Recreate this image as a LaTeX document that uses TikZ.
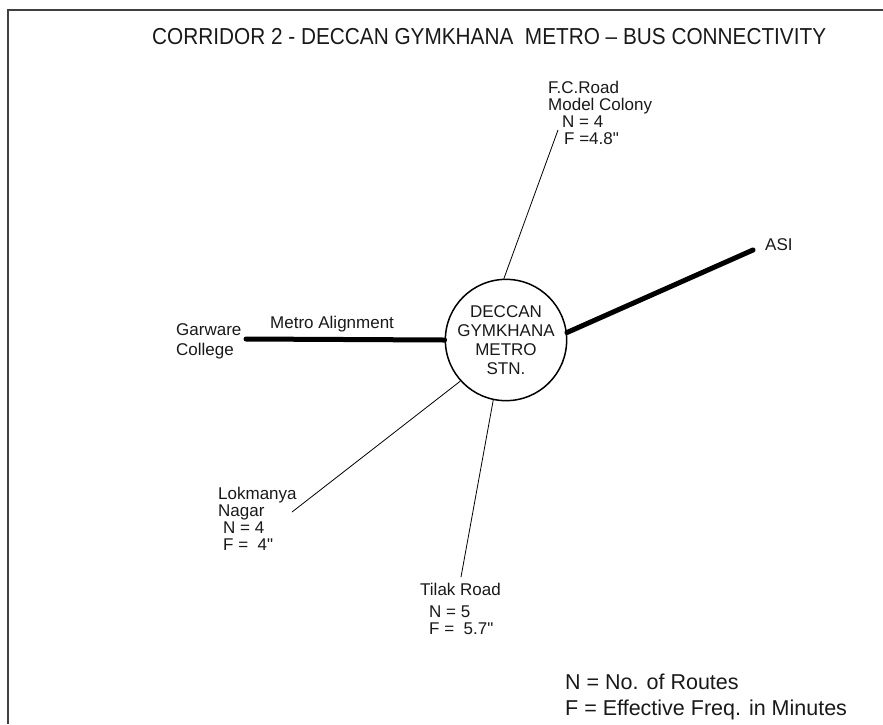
\documentclass[tikz,border=0pt]{standalone}
\usepackage{fontspec}
\setmainfont{Liberation Sans}
\newfontfamily\lblfont{Liberation Sans}
\newfontfamily\narrowfont[FakeStretch=0.9]{Liberation Sans}
\begin{document}
\begin{tikzpicture}[x=1pt,y=-1pt,
  lbl/.style={anchor=base west,inner sep=0pt,font=\lblfont\fontsize{17}{19}\selectfont,text=black!90},
  legend/.style={anchor=base west,inner sep=0pt,font=\lblfont\fontsize{21.5}{24}\selectfont,text=black!90},
  thickline/.style={line width=5pt,line cap=round},
  thinline/.style={line width=0.8pt},
  frameline/.style={line width=1.6pt,draw=black!75}]
\useasboundingbox (0,0) rectangle (883,724);
% frame
\coordinate (fbl) at (8,724);
\coordinate (ftl) at (8,10);
\coordinate (ftr) at (883,10);
\draw[frameline] (fbl) -- (ftl) -- (ftr);
% title
\node[anchor=base west,inner sep=0pt,text=black!90] (title) at (152,44)
  {\resizebox{674pt}{!}{\narrowfont\fontsize{21}{24}\selectfont CORRIDOR 2 - DECCAN GYMKHANA\ \ METRO – BUS CONNECTIVITY}};
% station
\node[draw,circle,line width=1.5pt,minimum size=102pt,inner sep=0pt,align=center,
  font=\lblfont\fontsize{17}{19}\selectfont,text=black!90] (stn) at (506,340)
  {\raisebox{-3pt}{\parbox{100pt}{\centering DECCAN\\GYMKHANA\\METRO\\STN.}}};
% end points
\coordinate (garend) at (246,339);
\coordinate (asiend) at (753,250);
\coordinate (fcend) at (558,130);
\coordinate (lokend) at (292,512);
\coordinate (tilend) at (461,577);
% connectors
\draw[thickline] (stn.180) -- (garend);
\draw[thickline] (stn.7) -- (asiend);
\draw[thinline] (stn.92) -- (fcend);
\draw[thinline] (stn.222) -- (lokend);
\draw[thinline] (stn.258) -- (tilend);
% labels
\node[lbl] (gar1) at (176,335) {Garware};
\node[lbl] (gar2) at (176,355) {College};
\node[lbl] (metro) at (270,328) {Metro Alignment};
\node[lbl] (asi) at (765,250) {ASI};
\node[lbl] (fc1) at (548,93) {F.C.Road};
\node[lbl] (fc2) at (548,110) {Model Colony};
\node[lbl] (fc3) at (562,127) {N = 4};
\node[lbl] (fc4) at (564,144) {F =4.8"};
\node[lbl] (lok1) at (218,499) {Lokmanya};
\node[lbl] (lok2) at (218,516) {Nagar};
\node[lbl] (lok3) at (223,533) {N = 4};
\node[lbl] (lok4) at (223,550) {F =\ \ 4"};
\node[lbl] (til1) at (420,595) {Tilak Road};
\node[lbl] (til2) at (429,617) {N = 5};
\node[lbl] (til3) at (429,634) {F =\ \ 5.7"};
% legend
\node[legend] (leg1) at (565,689) {N = No. of Routes};
\node[legend] (leg2) at (565,715) {F = Effective Freq. in Minutes};
\end{tikzpicture}
\end{document}
